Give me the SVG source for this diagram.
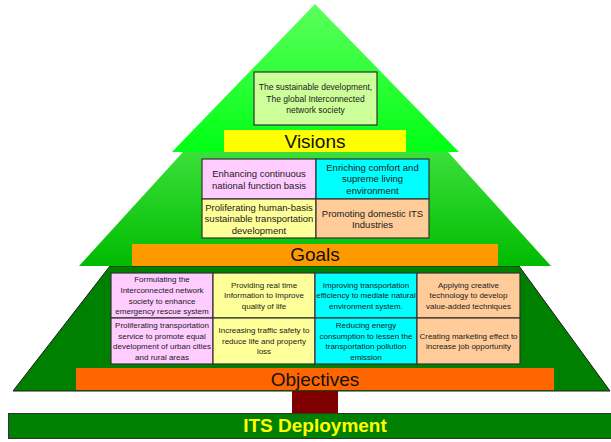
<svg xmlns="http://www.w3.org/2000/svg" width="611" height="442" viewBox="0 0 611 442">
<defs>
<linearGradient id="g1" x1="0" y1="0" x2="0" y2="1">
<stop offset="0" stop-color="#5cff5c"/>
<stop offset="1" stop-color="#00ff14"/>
</linearGradient>
<linearGradient id="g2" x1="0" y1="0" x2="0" y2="1">
<stop offset="0" stop-color="#3ae03a"/>
<stop offset="1" stop-color="#00bb00"/>
</linearGradient>
<style>
.cell{stroke:#333;stroke-width:1.2}
.t{font-family:"Liberation Sans",Arial,sans-serif;fill:#1a1a1a;text-anchor:middle}
.s8{font-size:8px}
.s85{font-size:8.5px}
.s95{font-size:9.5px}
.lab{font-family:"Liberation Sans",Arial,sans-serif;font-size:19px;fill:#111;text-anchor:middle}
.pink{fill:#ffccff}.cyan{fill:#00ffff}.yel{fill:#ffff99}.peach{fill:#ffcc99}
</style>
</defs>
<rect width="611" height="442" fill="#ffffff"/>
<g id="tier-objectives">
<polygon points="110,266 519,266 610,391 13,391" fill="#008000" stroke="#1a1a1a" stroke-width="1"/>
</g>
<g id="tier-goals">
<polygon points="183,152 448,152 551,266 79,266" fill="url(#g2)"/>
</g>
<g id="tier-visions">
<polygon points="315,4 459,152 172,152" fill="url(#g1)"/>
</g>
<g id="connectors">
<rect id="trunk" x="292" y="391" width="46" height="22" fill="#800000"/>
</g>
<g id="vision-box">
<rect x="254" y="72" width="123" height="53" fill="#ccff99" stroke="#333" stroke-width="1.2"/>
<text class="t s85" x="315.5" y="90">The sustainable development,</text>
<text class="t s85" x="315.5" y="102">The global Interconnected</text>
<text class="t s85" x="315.5" y="113">network society</text>
</g>
<g id="visions-label">
<rect x="224" y="130" width="182" height="22" fill="#ffff00"/>
<text class="lab" x="315" y="147.5">Visions</text>
</g>
<g id="goal-1">
<rect class="cell pink" x="202" y="159" width="114" height="40"/>
<text class="t s95" x="259" y="176.5">Enhancing continuous</text>
<text class="t s95" x="259" y="188.5">national function basis</text>
</g>
<g id="goal-2">
<rect class="cell cyan" x="316" y="159" width="113" height="40"/>
<text class="t s95" x="372.5" y="170.5">Enriching comfort and</text>
<text class="t s95" x="372.5" y="182">supreme living</text>
<text class="t s95" x="372.5" y="193.5">environment</text>
</g>
<g id="goal-3">
<rect class="cell yel" x="202" y="199" width="114" height="39"/>
<text class="t s95" x="259" y="210.5">Proliferating human-basis</text>
<text class="t s95" x="259" y="222">sustainable transportation</text>
<text class="t s95" x="259" y="233.5">development</text>
</g>
<g id="goal-4">
<rect class="cell peach" x="316" y="199" width="113" height="39"/>
<text class="t s95" x="372.5" y="216.5">Promoting domestic ITS</text>
<text class="t s95" x="372.5" y="228">Industries</text>
</g>
<g id="goals-label">
<rect x="132" y="244" width="366" height="22" fill="#ff9900"/>
<text class="lab" x="315" y="261">Goals</text>
</g>
<g id="obj-1">
<rect class="cell pink" x="111" y="273" width="102" height="45"/>
<text class="t s8" x="162" y="282">Formulating the</text>
<text class="t s8" x="162" y="293">Interconnected network</text>
<text class="t s8" x="162" y="304">society to enhance</text>
<text class="t s8" x="162" y="314">emergency rescue system</text>
</g>
<g id="obj-2">
<rect class="cell yel" x="213" y="273" width="102" height="45"/>
<text class="t s8" x="264" y="288">Providing real time</text>
<text class="t s8" x="264" y="298">Information to Improve</text>
<text class="t s8" x="264" y="309">quality of life</text>
</g>
<g id="obj-3">
<rect class="cell cyan" x="315" y="273" width="102" height="45"/>
<text class="t s8" x="366" y="288">Improving transportation</text>
<text class="t s8" x="366" y="298">efficiency to mediate natural</text>
<text class="t s8" x="366" y="309">environment system.</text>
</g>
<g id="obj-4">
<rect class="cell peach" x="417" y="273" width="103" height="45"/>
<text class="t s8" x="468.5" y="288">Applying creative</text>
<text class="t s8" x="468.5" y="298">technology to develop</text>
<text class="t s8" x="468.5" y="309">value-added techniques</text>
</g>
<g id="obj-5">
<rect class="cell pink" x="111" y="318" width="102" height="46"/>
<text class="t s8" x="162" y="328">Proliferating transportation</text>
<text class="t s8" x="162" y="339">service to promote equal</text>
<text class="t s8" x="162" y="349">development of urban cities</text>
<text class="t s8" x="162" y="360">and rural areas</text>
</g>
<g id="obj-6">
<rect class="cell yel" x="213" y="318" width="102" height="46"/>
<text class="t s8" x="264" y="333">Increasing traffic safety to</text>
<text class="t s8" x="264" y="344">reduce life and property</text>
<text class="t s8" x="264" y="354">loss</text>
</g>
<g id="obj-7">
<rect class="cell cyan" x="315" y="318" width="102" height="46"/>
<text class="t s8" x="366" y="328">Reducing energy</text>
<text class="t s8" x="366" y="339">consumption to lessen the</text>
<text class="t s8" x="366" y="349">transportation pollution</text>
<text class="t s8" x="366" y="360">emission</text>
</g>
<g id="obj-8">
<rect class="cell peach" x="417" y="318" width="103" height="46"/>
<text class="t s8" x="468.5" y="339">Creating marketing effect to</text>
<text class="t s8" x="468.5" y="349">increase job opportunity</text>
</g>
<g id="objectives-label">
<rect x="76" y="368" width="478" height="22" fill="#ff6600"/>
<text class="lab" x="315" y="385.5">Objectives</text>
</g>
<g id="its-deployment">
<rect x="8.5" y="413.5" width="603" height="25" fill="#008000" stroke="#333" stroke-width="1"/>
<text x="315" y="432" style="font-family:'Liberation Sans',Arial,sans-serif;font-size:19px;font-weight:bold;fill:#ffff00;text-anchor:middle">ITS Deployment</text>
</g>
</svg>
